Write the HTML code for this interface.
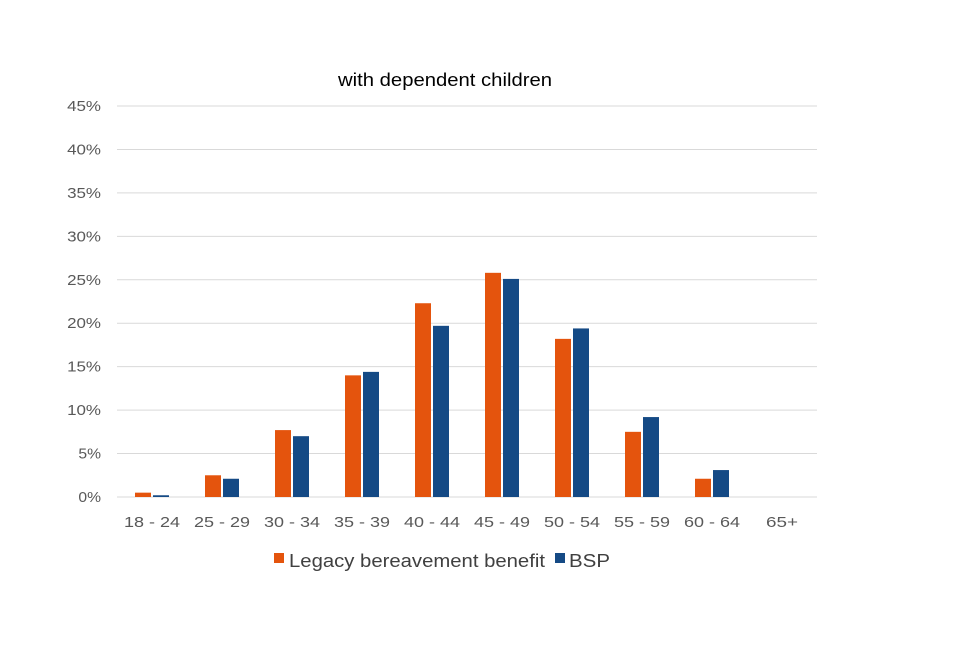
<!DOCTYPE html>
<html><head><meta charset="utf-8"><style>
body{margin:0;background:#fff;width:960px;height:640px;overflow:hidden;font-family:"Liberation Sans",Arial,sans-serif}
</style></head><body>
<svg id="chart" width="960" height="640" xmlns="http://www.w3.org/2000/svg" font-family="Liberation Sans, Arial, sans-serif">
<text x="338" y="86" textLength="214" lengthAdjust="spacingAndGlyphs" font-size="18" fill="#000">with dependent children</text>
<g id="grid"></g><g id="bars"></g><g id="xlabels"></g>
<g>
<rect x="274" y="553" width="10" height="10" fill="#E4540D"/>
<text x="289" y="567" textLength="256" lengthAdjust="spacingAndGlyphs" font-size="18" fill="#404040">Legacy bereavement benefit</text>
<rect x="555" y="553" width="10" height="10" fill="#154A85"/>
<text x="569" y="567" textLength="41" lengthAdjust="spacingAndGlyphs" font-size="18" fill="#404040">BSP</text>
</g>
</svg>
<script>
const categories=["18 - 24","25 - 29","30 - 34","35 - 39","40 - 44","45 - 49","50 - 54","55 - 59","60 - 64","65+"];
const legacyValues=[0.5,2.5,7.7,14.0,22.3,25.8,18.2,7.5,2.1,0];
const bspValues=[0.2,2.1,7.0,14.4,19.7,25.1,19.4,9.2,3.1,0];
const yTicks=[0,5,10,15,20,25,30,35,40,45];
const NS="http://www.w3.org/2000/svg";
const x0=117,x1=817,y0=497,yTop=106,yMax=45;
const y=v=>y0-(v/yMax)*(y0-yTop);
const band=(x1-x0)/categories.length;
const xc=i=>x0+band*(i+0.5);
function mk(t,a,p){const e=document.createElementNS(NS,t);for(const k in a)e.setAttribute(k,a[k]);p.appendChild(e);return e;}
const grid=document.getElementById('grid'),bars=document.getElementById('bars'),xl=document.getElementById('xlabels');
yTicks.forEach(t=>{
 const l=mk('line',{x1:x0,x2:x1,y1:y(t),y2:y(t),stroke:'#d9d9d9','stroke-width':1},grid);
 
 
 const s=t+'%';
 const tx=mk('text',{x:101,y:y(t)+5,'text-anchor':'end','font-size':15,fill:'#595959',textLength:s.length*11.3,lengthAdjust:'spacingAndGlyphs'},grid);
 tx.textContent=s;
 
 
});
const bw=16;
categories.forEach((c,i)=>{
 const a=mk('rect',{x:xc(i)-bw-1,y:y(legacyValues[i]),width:bw,height:y0-y(legacyValues[i]),fill:'#E4540D'},bars);
 
 
 const b=mk('rect',{x:xc(i)+1,y:y(bspValues[i]),width:bw,height:y0-y(bspValues[i]),fill:'#154A85'},bars);
 
 
 const t=mk('text',{x:xc(i),y:527,'text-anchor':'middle','font-size':15,fill:'#595959',textLength:c.length>3?56:32,lengthAdjust:'spacingAndGlyphs'},xl);
 t.textContent=c;
 
 
});
</script>
</body></html>
